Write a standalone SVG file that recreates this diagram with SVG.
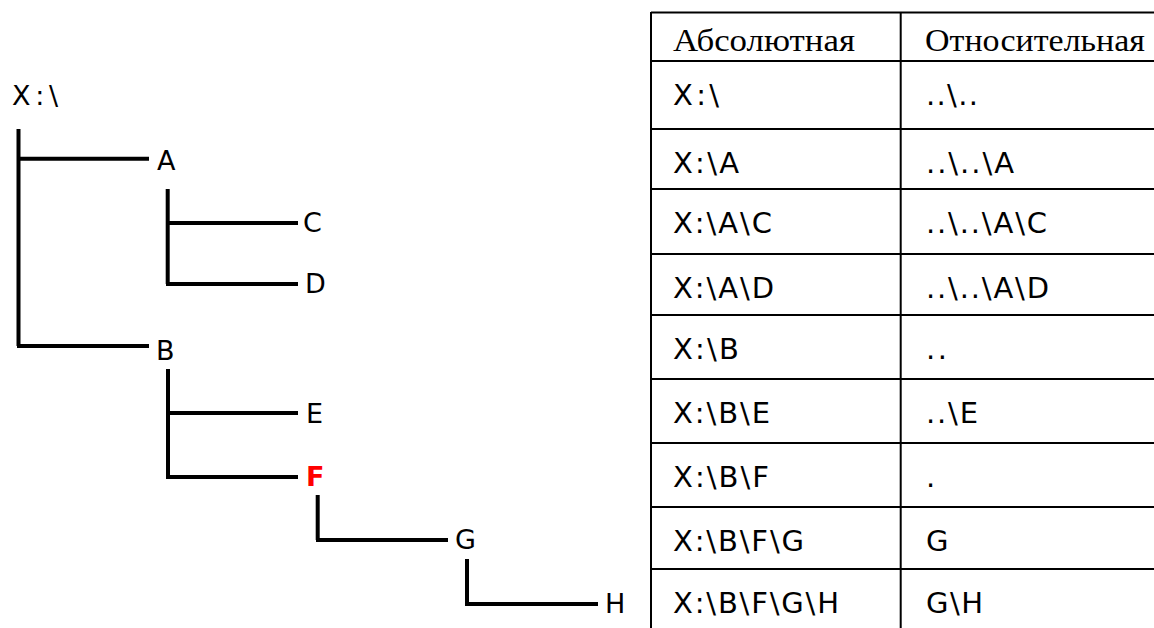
<svg xmlns="http://www.w3.org/2000/svg" width="1154" height="628" viewBox="0 0 1154 628">
<style>
.ln{stroke:#000;stroke-width:4;fill:none;stroke-linecap:butt}
.tl{font-family:"DejaVu Sans",Verdana,sans-serif;font-size:27px;fill:#000}
.tb{font-family:"DejaVu Sans",Verdana,sans-serif;font-size:29px;fill:#000}
.th{font-family:"Liberation Serif","Times New Roman",serif;font-size:32.5px;fill:#000}
.red{fill:#ff0000;font-weight:bold}
.grid{stroke:#000;stroke-width:2;fill:none}
</style>
<rect width="1154" height="628" fill="#fff"/>
<g id="connectors">
<path class="ln" d="M18.5,129 V346 M17,158.7 H149 M17,346 H149"/>
<path class="ln" d="M167.7,189 V284 M166,223 H298 M166,284 H298"/>
<path class="ln" d="M168,369 V477 M166,413 H298 M166,477 H298"/>
<path class="ln" d="M317.7,495 V540 M316,540 H448"/>
<path class="ln" d="M467,559 V604 M465,604 H598"/>
</g>
<g id="node-root"><text class="tl" x="12" y="105" textLength="46" lengthAdjust="spacing">X:\</text></g>
<g id="node-A"><text class="tl" x="157" y="170">A</text></g>
<g id="node-C"><text class="tl" x="303" y="232">C</text></g>
<g id="node-D"><text class="tl" x="305" y="293">D</text></g>
<g id="node-B"><text class="tl" x="156" y="360">B</text></g>
<g id="node-E"><text class="tl" x="306" y="423">E</text></g>
<g id="node-F"><text class="tl red" x="306" y="486">F</text></g>
<g id="node-G"><text class="tl" x="455" y="549">G</text></g>
<g id="node-H"><text class="tl" x="605" y="613">H</text></g>
<g id="table">
<path class="grid" d="M651,12.5 H1154 M651,61 H1154 M651,129 H1154 M651,189 H1154 M651,254 H1154 M651,315 H1154 M651,379 H1154 M651,443 H1154 M651,507 H1154 M651,569 H1154 M651,12 V628 M900.7,12 V628"/>
<text class="th" x="673" y="51" textLength="182" lengthAdjust="spacingAndGlyphs">Абсолютная</text>
<text class="th" x="925" y="51" textLength="220" lengthAdjust="spacingAndGlyphs">Относительная</text>
<text class="tb" x="673" y="105" textLength="46" lengthAdjust="spacing">X:\</text>
<text class="tb" x="926" y="105" textLength="52" lengthAdjust="spacing">..\..</text>
<text class="tb" x="673" y="173" textLength="66" lengthAdjust="spacing">X:\A</text>
<text class="tb" x="926" y="173" textLength="88" lengthAdjust="spacing">..\..\A</text>
<text class="tb" x="673" y="233" textLength="99" lengthAdjust="spacing">X:\A\C</text>
<text class="tb" x="926" y="233" textLength="121" lengthAdjust="spacing">..\..\A\C</text>
<text class="tb" x="673" y="298" textLength="101" lengthAdjust="spacing">X:\A\D</text>
<text class="tb" x="926" y="298" textLength="123" lengthAdjust="spacing">..\..\A\D</text>
<text class="tb" x="673" y="359" textLength="66" lengthAdjust="spacing">X:\B</text>
<text class="tb" x="926" y="359" textLength="21" lengthAdjust="spacing">..</text>
<text class="tb" x="673" y="423" textLength="97" lengthAdjust="spacing">X:\B\E</text>
<text class="tb" x="926" y="423" textLength="52" lengthAdjust="spacing">..\E</text>
<text class="tb" x="673" y="487" textLength="96" lengthAdjust="spacing">X:\B\F</text>
<text class="tb" x="926" y="487">.</text>
<text class="tb" x="673" y="551" textLength="131" lengthAdjust="spacing">X:\B\F\G</text>
<text class="tb" x="926" y="551">G</text>
<text class="tb" x="673" y="613" textLength="166" lengthAdjust="spacing">X:\B\F\G\H</text>
<text class="tb" x="926" y="613" textLength="57" lengthAdjust="spacing">G\H</text>
</g>
</svg>
